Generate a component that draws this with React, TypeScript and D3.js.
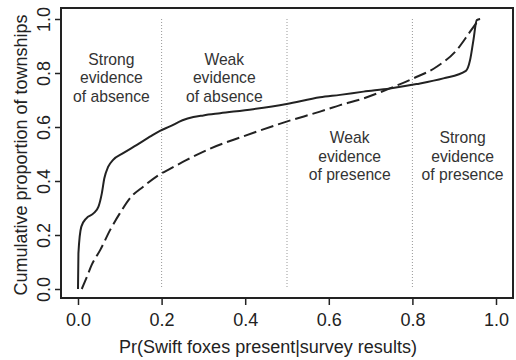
import React, { useRef, useEffect } from "react";
import * as d3 from "d3";

// solid curve
const solidX = [0.0, 0.001, 0.008, 0.02, 0.037, 0.049, 0.057, 0.063, 0.072, 0.084, 0.108, 0.14, 0.172, 0.196, 0.22, 0.25, 0.276, 0.3, 0.34, 0.419, 0.499, 0.579, 0.627, 0.683, 0.746, 0.81, 0.874, 0.928, 0.938, 0.946, 0.954, 0.962];
const solidY = [0.0, 0.132, 0.231, 0.262, 0.28, 0.305, 0.354, 0.41, 0.452, 0.478, 0.503, 0.533, 0.564, 0.586, 0.602, 0.625, 0.637, 0.643, 0.651, 0.666, 0.685, 0.71, 0.719, 0.731, 0.743, 0.759, 0.78, 0.808, 0.848, 0.922, 0.996, 1.0];

// dashed curve
const dashX = [0.009, 0.02, 0.033, 0.053, 0.077, 0.1, 0.124, 0.156, 0.196, 0.22, 0.26, 0.316, 0.395, 0.499, 0.579, 0.627, 0.683, 0.746, 0.802, 0.858, 0.906, 0.938, 0.958];
const dashY = [0.0, 0.04, 0.09, 0.144, 0.219, 0.28, 0.336, 0.379, 0.425, 0.445, 0.478, 0.52, 0.565, 0.62, 0.657, 0.681, 0.706, 0.743, 0.78, 0.823, 0.885, 0.953, 0.996];

const ticks = [0, 0.2, 0.4, 0.6, 0.8, 1.0];
const cutoffs = [0.2, 0.5, 0.8];

const zoneX = [0.08, 0.35, 0.65, 0.92];
const zoneLines = [
  ["Strong", "evidence", "of absence"],
  ["Weak", "evidence", "of absence"],
  ["Weak", "evidence", "of presence"],
  ["Strong", "evidence", "of presence"],
];
const zoneTop = [0.83, 0.83, 0.54, 0.54]; // y of first baseline (data units)

export default function App() {
  const ref = useRef<HTMLDivElement>(null);

  useEffect(() => {
    document.body.style.margin = "0";
    const width = 516;
    const height = 360;
    const left = 61, right = 513, top = 8, bottom = 298;
    const font = "'Liberation Sans', Arial, sans-serif";
    const ink = "#222";

    const x = d3.scaleLinear().domain([0, 1]).range([78, 496]);
    const y = d3.scaleLinear().domain([0, 1]).range([289, 19]);

    const svg = d3
      .select(ref.current)
      .html("")
      .append("svg")
      .attr("width", width)
      .attr("height", height)
      .style("display", "block")
      .style("background", "#fff");

    // cutoff lines
    svg
      .append("g")
      .selectAll("line")
      .data(cutoffs)
      .enter()
      .append("line")
      .attr("x1", (d) => x(d))
      .attr("x2", (d) => x(d))
      .attr("y1", y(1))
      .attr("y2", y(0))
      .attr("stroke", "#999")
      .attr("stroke-width", 1)
      .attr("stroke-dasharray", "1,2");

    const line = d3
      .line<[number, number]>()
      .x((d) => x(d[0]))
      .y((d) => y(d[1]))
      .curve(d3.curveMonotoneX);

    const solid = solidX.map((v, i) => [v, solidY[i]] as [number, number]);
    const dashed = dashX.map((v, i) => [v, dashY[i]] as [number, number]);

    svg
      .append("path")
      .attr("d", line(dashed))
      .attr("fill", "none")
      .attr("stroke", ink)
      .attr("stroke-width", 2)
      .attr("stroke-dasharray", "13,5");

    svg
      .append("path")
      .attr("d", line(solid))
      .attr("fill", "none")
      .attr("stroke", ink)
      .attr("stroke-width", 2);

    // box
    svg
      .append("rect")
      .attr("x", left)
      .attr("y", top)
      .attr("width", right - left)
      .attr("height", bottom - top)
      .attr("fill", "none")
      .attr("stroke", ink)
      .attr("stroke-width", 2);

    // x axis
    const xa = svg
      .append("g")
      .attr("transform", `translate(0, ${bottom})`)
      .call(
        d3.axisBottom(x).tickValues(ticks).tickFormat(d3.format(".1f")).tickSize(7).tickPadding(8)
      );
    xa.select(".domain").remove();
    xa.selectAll("line").attr("stroke", ink).attr("stroke-width", 1.5);
    xa.selectAll("text").attr("font-family", font).attr("font-size", 18).attr("fill", ink);

    // y axis
    const ya = svg
      .append("g")
      .attr("transform", `translate(${left}, 0)`)
      .call(
        d3.axisLeft(y).tickValues(ticks).tickFormat(d3.format(".1f")).tickSize(6)
      );
    ya.select(".domain").remove();
    ya.selectAll("line").attr("stroke", ink).attr("stroke-width", 1.5);
    ya.selectAll("text")
      .attr("font-family", font)
      .attr("font-size", 18)
      .attr("fill", ink)
      .attr("x", null)
      .attr("dy", null)
      .attr("text-anchor", "middle")
      .attr("transform", "translate(-11, 0) rotate(-90)");

    // titles
    svg
      .append("text")
      .attr("x", 268)
      .attr("y", 353)
      .attr("text-anchor", "middle")
      .attr("font-family", font)
      .attr("font-size", 18)
      .attr("fill", ink)
      .text("Pr(Swift foxes present|survey results)");

    svg
      .append("text")
      .attr("transform", "translate(27, 155) rotate(-90)")
      .attr("text-anchor", "middle")
      .attr("font-family", font)
      .attr("font-size", 18)
      .attr("fill", ink)
      .text("Cumulative proportion of townships");

    // zone labels
    zoneLines.forEach((lines, i) => {
      const t = svg
        .append("text")
        .attr("text-anchor", "middle")
        .attr("font-family", font)
        .attr("font-size", 15.7)
        .attr("fill", "#333");
      lines.forEach((s, j) => {
        t.append("tspan")
          .attr("x", x(zoneX[i]))
          .attr("y", y(zoneTop[i]) + j * 18.3)
          .text(s);
      });
    });
  }, []);

  return <div ref={ref} style={{ width: 516, height: 360 }}></div>;
}
